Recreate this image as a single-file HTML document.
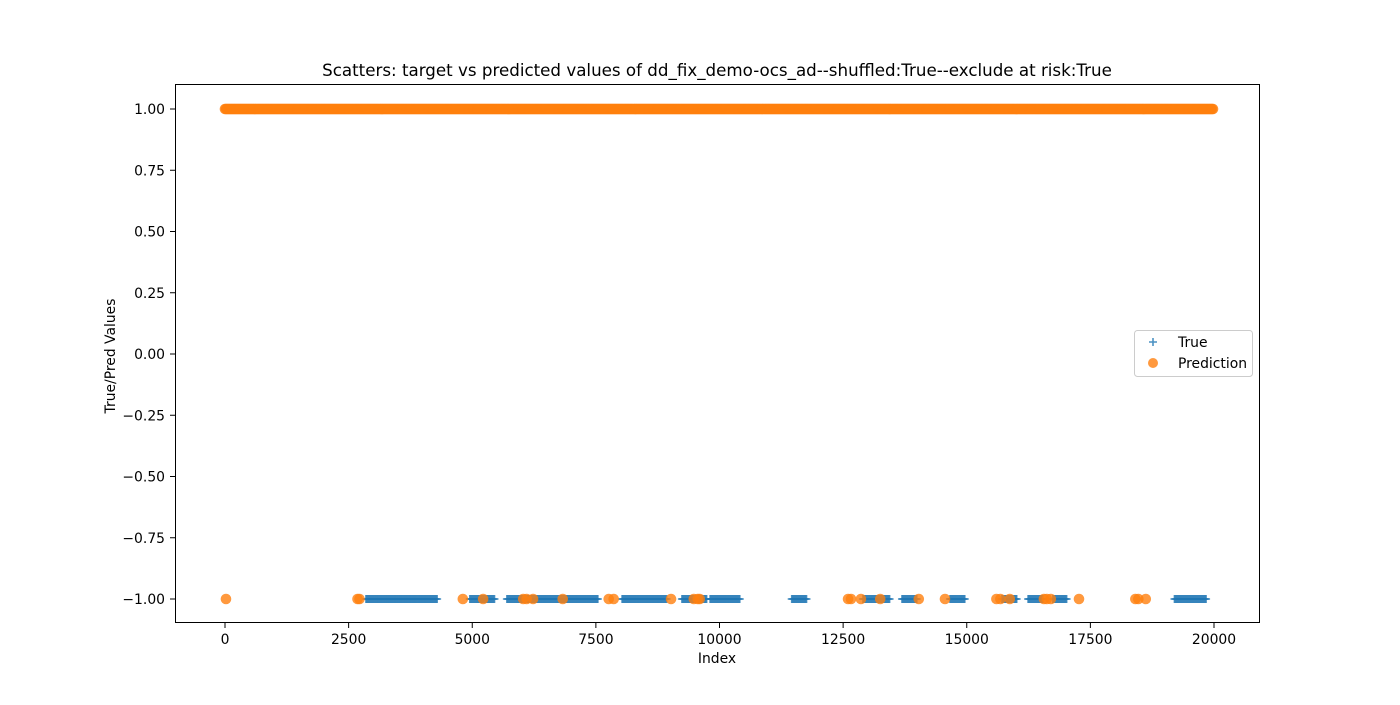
<!DOCTYPE html>
<html><head><meta charset="utf-8"><style>
body{margin:0;background:#fff}
svg text{font-family:"DejaVu Sans","Liberation Sans",sans-serif;fill:#000}
</style></head><body>
<svg id="chart" width="1400" height="700">
<rect width="1400" height="700" fill="#fff"/>
<text x="717" y="76" font-size="16.7" text-anchor="middle">Scatters: target vs predicted values of dd_fix_demo-ocs_ad--shuffled:True--exclude at risk:True</text>
<g id="marks"></g>
<g id="axes"></g>
<rect x="175.5" y="84.5" width="1084" height="538" fill="none" stroke="#000" stroke-width="1"/>
<text x="717" y="663" font-size="13.9" text-anchor="middle">Index</text>
<text x="115" y="356" font-size="13.9" text-anchor="middle" transform="rotate(-90 115 356)">True/Pred Values</text>
<g>
<rect x="1134.5" y="330.5" width="118" height="46" rx="3" fill="#fff" fill-opacity="0.8" stroke="#ccc"/>
<g><path d="M1149 342h8M1153 338v8" stroke="#1f77b4" stroke-opacity="0.8" stroke-width="1.6"/><text x="1178" y="347" font-size="13.9">True</text></g>
<g><circle cx="1153" cy="363" r="5" fill="#ff7f0e" fill-opacity="0.8"/><text x="1178" y="368" font-size="13.9">Prediction</text></g>
</g>
</svg>
<script>
const xTicks=[0,2500,5000,7500,10000,12500,15000,17500,20000];
const yTicks=[1.00,0.75,0.50,0.25,0.00,-0.25,-0.50,-0.75,-1.00];
const trueNegRanges=[[2850,4300],[4950,5450],[5700,7540],[8030,8940],[9240,9750],[9810,10410],[11460,11770],[12900,13450],[13690,13990],[14660,14960],[15710,16010],[16240,16540],[16740,17030],[19200,19850]];
const truePosRange=[0,19980];
const predNeg=[20,2680,2720,4810,5220,6030,6100,6230,6830,7760,7860,9020,9480,9560,9600,12600,12660,12860,13250,14030,14560,15600,15680,15870,16560,16620,16700,17270,18410,18470,18620];
const predPosRange=[0,19980];
const sx=v=>225+v*(1214-225)/20000;
const sy=v=>109+(1-v)*(599-109)/2;
const NS="http://www.w3.org/2000/svg";
const axes=document.getElementById('axes'),marks=document.getElementById('marks');
function mk(t,a,p){const e=document.createElementNS(NS,t);for(const k in a)e.setAttribute(k,a[k]);p.appendChild(e);return e;}
xTicks.forEach(v=>{const x=sx(v);
const l=mk('line',{x1:x,x2:x,y1:623,y2:628,stroke:'#000'},axes);


const t=mk('text',{x:x,y:644,'font-size':13.9,'text-anchor':'middle'},axes);t.textContent=v;

});
yTicks.forEach(v=>{const y=sy(v);
const l=mk('line',{x1:170,x2:175,y1:y,y2:y,stroke:'#000'},axes);


const t=mk('text',{x:165,y:y+5,'font-size':13.9,'text-anchor':'end'},axes);t.textContent=(v<0?'\u2212':'')+Math.abs(v).toFixed(2);

});
const gT=mk('g',{stroke:'#1f77b4','stroke-opacity':0.8,'stroke-width':1.6},marks);


function plus(i,v){const x=sx(i),y=sy(v);mk('path',{d:`M${x-4} ${y}h8M${x} ${y-4}v8`},gT);}
for(let i=truePosRange[0];i<=truePosRange[1];i+=40)plus(i,1);
trueNegRanges.forEach(r=>{for(let i=r[0];i<=r[1];i+=20)plus(i,-1);});
const gP=mk('g',{fill:'#ff7f0e','fill-opacity':0.8},marks);


for(let i=predPosRange[0];i<=predPosRange[1];i+=20)mk('circle',{cx:sx(i),cy:sy(1),r:5.3},gP);
predNeg.forEach(i=>mk('circle',{cx:sx(i),cy:sy(-1),r:5.3},gP));
</script>
</body></html>
